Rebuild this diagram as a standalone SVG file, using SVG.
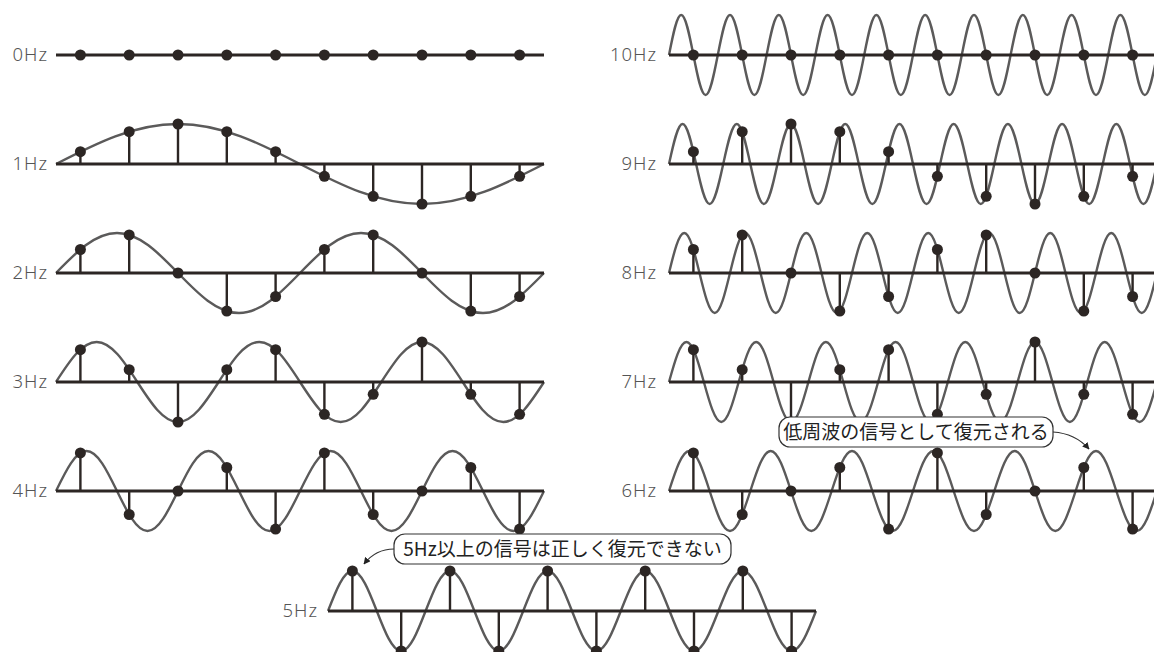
<svg xmlns="http://www.w3.org/2000/svg" width="1154" height="652" viewBox="0 0 1154 652">
<style>
.bg{fill:#fff}
.sine{fill:none;stroke:#5b5a5a;stroke-width:2.4;stroke-linejoin:round}
.axis{stroke:#2c2624;stroke-width:3;fill:none}
.stem{stroke:#2c2624;stroke-width:2.4;fill:none}
.dot{fill:#2c2624}
.lbl{font-family:"Noto Sans","Noto Sans CJK JP",sans-serif;font-size:18.5px;font-weight:300;letter-spacing:1px;fill:#555;text-anchor:end}
.box{fill:#fff;stroke:#333;stroke-width:1.2}
.ctext{font-family:"Noto Sans CJK JP",sans-serif;font-size:19px;fill:#222;text-anchor:middle}
.arrow{fill:none;stroke:#333;stroke-width:1.2}
</style>
<defs>
<marker id="ah" viewBox="0 0 10 10" refX="9" refY="5" markerWidth="7" markerHeight="7" markerUnits="userSpaceOnUse" orient="auto">
<path d="M0,0 L10,5 L0,10 z" fill="#222"/>
</marker>
</defs>
<rect class="bg" width="1154" height="652"/>

<g id="row-0hz">
<text class="lbl" x="48" y="61">0Hz</text>
<line class="axis" x1="56" y1="55" x2="544" y2="55"/>
<g class="dot"><circle cx="80.4" cy="55" r="5.5"/><circle cx="129.2" cy="55" r="5.5"/><circle cx="178" cy="55" r="5.5"/><circle cx="226.8" cy="55" r="5.5"/><circle cx="275.6" cy="55" r="5.5"/><circle cx="324.4" cy="55" r="5.5"/><circle cx="373.2" cy="55" r="5.5"/><circle cx="422" cy="55" r="5.5"/><circle cx="470.8" cy="55" r="5.5"/><circle cx="519.6" cy="55" r="5.5"/></g>
</g>

<g id="row-1hz">
<text class="lbl" x="48" y="170">1Hz</text>
<path class="sine" d="M56,164 c39.78,-20.49 77.85,-40 122,-40 s82.22,19.51 122,40 s77.85,40 122,40 s82.22,-19.51 122,-40"/>
<line class="axis" x1="56" y1="164" x2="544" y2="164"/>
<path class="stem" d="M80.4,164V151.64M129.2,164V131.64M178,164V124M226.8,164V131.64M275.6,164V151.64M324.4,164V176.36M373.2,164V196.36M422,164V204M470.8,164V196.36M519.6,164V176.36"/>
<g class="dot"><circle cx="80.4" cy="151.64" r="5.5"/><circle cx="129.2" cy="131.64" r="5.5"/><circle cx="178" cy="124" r="5.5"/><circle cx="226.8" cy="131.64" r="5.5"/><circle cx="275.6" cy="151.64" r="5.5"/><circle cx="324.4" cy="176.36" r="5.5"/><circle cx="373.2" cy="196.36" r="5.5"/><circle cx="422" cy="204" r="5.5"/><circle cx="470.8" cy="196.36" r="5.5"/><circle cx="519.6" cy="176.36" r="5.5"/></g>
</g>

<g id="row-2hz">
<text class="lbl" x="48" y="279">2Hz</text>
<path class="sine" d="M56,273 c19.89,-20.49 38.92,-40 61,-40 s41.11,19.51 61,40 s38.92,40 61,40 s41.11,-19.51 61,-40 s38.92,-40 61,-40 s41.11,19.51 61,40 s38.92,40 61,40 s41.11,-19.51 61,-40"/>
<line class="axis" x1="56" y1="273" x2="544" y2="273"/>
<path class="stem" d="M80.4,273V249.49M129.2,273V234.96M226.8,273V311.04M275.6,273V296.51M324.4,273V249.49M373.2,273V234.96M470.8,273V311.04M519.6,273V296.51"/>
<g class="dot"><circle cx="80.4" cy="249.49" r="5.5"/><circle cx="129.2" cy="234.96" r="5.5"/><circle cx="178" cy="273" r="5.5"/><circle cx="226.8" cy="311.04" r="5.5"/><circle cx="275.6" cy="296.51" r="5.5"/><circle cx="324.4" cy="249.49" r="5.5"/><circle cx="373.2" cy="234.96" r="5.5"/><circle cx="422" cy="273" r="5.5"/><circle cx="470.8" cy="311.04" r="5.5"/><circle cx="519.6" cy="296.51" r="5.5"/></g>
</g>

<g id="row-3hz">
<text class="lbl" x="48" y="388">3Hz</text>
<path class="sine" d="M56,382 c13.26,-20.49 25.95,-40 40.667,-40 s27.41,19.51 40.667,40 s25.95,40 40.667,40 s27.41,-19.51 40.667,-40 s25.95,-40 40.667,-40 s27.41,19.51 40.667,40 s25.95,40 40.667,40 s27.41,-19.51 40.667,-40 s25.95,-40 40.667,-40 s27.41,19.51 40.667,40 s25.95,40 40.667,40 s27.41,-19.51 40.667,-40"/>
<line class="axis" x1="56" y1="382" x2="544" y2="382"/>
<path class="stem" d="M80.4,382V349.64M129.2,382V369.64M178,382V422M226.8,382V369.64M275.6,382V349.64M324.4,382V414.36M373.2,382V394.36M422,382V342M470.8,382V394.36M519.6,382V414.36"/>
<g class="dot"><circle cx="80.4" cy="349.64" r="5.5"/><circle cx="129.2" cy="369.64" r="5.5"/><circle cx="178" cy="422" r="5.5"/><circle cx="226.8" cy="369.64" r="5.5"/><circle cx="275.6" cy="349.64" r="5.5"/><circle cx="324.4" cy="414.36" r="5.5"/><circle cx="373.2" cy="394.36" r="5.5"/><circle cx="422" cy="342" r="5.5"/><circle cx="470.8" cy="394.36" r="5.5"/><circle cx="519.6" cy="414.36" r="5.5"/></g>
</g>

<g id="row-4hz">
<text class="lbl" x="48" y="497">4Hz</text>
<path class="sine" d="M56,491 c9.95,-20.49 19.46,-40 30.5,-40 s20.55,19.51 30.5,40 s19.46,40 30.5,40 s20.55,-19.51 30.5,-40 s19.46,-40 30.5,-40 s20.55,19.51 30.5,40 s19.46,40 30.5,40 s20.55,-19.51 30.5,-40 s19.46,-40 30.5,-40 s20.55,19.51 30.5,40 s19.46,40 30.5,40 s20.55,-19.51 30.5,-40 s19.46,-40 30.5,-40 s20.55,19.51 30.5,40 s19.46,40 30.5,40 s20.55,-19.51 30.5,-40"/>
<line class="axis" x1="56" y1="491" x2="544" y2="491"/>
<path class="stem" d="M80.4,491V452.96M129.2,491V514.51M226.8,491V467.49M275.6,491V529.04M324.4,491V452.96M373.2,491V514.51M470.8,491V467.49M519.6,491V529.04"/>
<g class="dot"><circle cx="80.4" cy="452.96" r="5.5"/><circle cx="129.2" cy="514.51" r="5.5"/><circle cx="178" cy="491" r="5.5"/><circle cx="226.8" cy="467.49" r="5.5"/><circle cx="275.6" cy="529.04" r="5.5"/><circle cx="324.4" cy="452.96" r="5.5"/><circle cx="373.2" cy="514.51" r="5.5"/><circle cx="422" cy="491" r="5.5"/><circle cx="470.8" cy="467.49" r="5.5"/><circle cx="519.6" cy="529.04" r="5.5"/></g>
</g>

<g id="row-5hz">
<text class="lbl" x="318" y="617">5Hz</text>
<path class="sine" d="M328,611 c7.96,-20.49 15.57,-40 24.4,-40 s16.44,19.51 24.4,40 s15.57,40 24.4,40 s16.44,-19.51 24.4,-40 s15.57,-40 24.4,-40 s16.44,19.51 24.4,40 s15.57,40 24.4,40 s16.44,-19.51 24.4,-40 s15.57,-40 24.4,-40 s16.44,19.51 24.4,40 s15.57,40 24.4,40 s16.44,-19.51 24.4,-40 s15.57,-40 24.4,-40 s16.44,19.51 24.4,40 s15.57,40 24.4,40 s16.44,-19.51 24.4,-40 s15.57,-40 24.4,-40 s16.44,19.51 24.4,40 s15.57,40 24.4,40 s16.44,-19.51 24.4,-40"/>
<line class="axis" x1="328" y1="611" x2="816" y2="611"/>
<path class="stem" d="M352.4,611V571M401.2,611V651M450,611V571M498.8,611V651M547.6,611V571M596.4,611V651M645.2,611V571M694,611V651M742.8,611V571M791.6,611V651"/>
<g class="dot"><circle cx="352.4" cy="571" r="5.5"/><circle cx="401.2" cy="651" r="5.5"/><circle cx="450" cy="571" r="5.5"/><circle cx="498.8" cy="651" r="5.5"/><circle cx="547.6" cy="571" r="5.5"/><circle cx="596.4" cy="651" r="5.5"/><circle cx="645.2" cy="571" r="5.5"/><circle cx="694" cy="651" r="5.5"/><circle cx="742.8" cy="571" r="5.5"/><circle cx="791.6" cy="651" r="5.5"/></g>
</g>

<g id="row-10hz">
<text class="lbl" x="657" y="61">10Hz</text>
<path class="sine" d="M669,55 c3.98,-20.49 7.78,-40 12.2,-40 s8.22,19.51 12.2,40 s7.78,40 12.2,40 s8.22,-19.51 12.2,-40 s7.78,-40 12.2,-40 s8.22,19.51 12.2,40 s7.78,40 12.2,40 s8.22,-19.51 12.2,-40 s7.78,-40 12.2,-40 s8.22,19.51 12.2,40 s7.78,40 12.2,40 s8.22,-19.51 12.2,-40 s7.78,-40 12.2,-40 s8.22,19.51 12.2,40 s7.78,40 12.2,40 s8.22,-19.51 12.2,-40 s7.78,-40 12.2,-40 s8.22,19.51 12.2,40 s7.78,40 12.2,40 s8.22,-19.51 12.2,-40 s7.78,-40 12.2,-40 s8.22,19.51 12.2,40 s7.78,40 12.2,40 s8.22,-19.51 12.2,-40 s7.78,-40 12.2,-40 s8.22,19.51 12.2,40 s7.78,40 12.2,40 s8.22,-19.51 12.2,-40 s7.78,-40 12.2,-40 s8.22,19.51 12.2,40 s7.78,40 12.2,40 s8.22,-19.51 12.2,-40 s7.78,-40 12.2,-40 s8.22,19.51 12.2,40 s7.78,40 12.2,40 s8.22,-19.51 12.2,-40 s7.78,-40 12.2,-40 s8.22,19.51 12.2,40 s7.78,40 12.2,40 s8.22,-19.51 12.2,-40"/>
<line class="axis" x1="669" y1="55" x2="1157" y2="55"/>
<g class="dot"><circle cx="693.4" cy="55" r="5.5"/><circle cx="742.2" cy="55" r="5.5"/><circle cx="791" cy="55" r="5.5"/><circle cx="839.8" cy="55" r="5.5"/><circle cx="888.6" cy="55" r="5.5"/><circle cx="937.4" cy="55" r="5.5"/><circle cx="986.2" cy="55" r="5.5"/><circle cx="1035" cy="55" r="5.5"/><circle cx="1083.8" cy="55" r="5.5"/><circle cx="1132.6" cy="55" r="5.5"/></g>
</g>

<g id="row-9hz">
<text class="lbl" x="657" y="170">9Hz</text>
<path class="sine" d="M669,164 c4.42,-20.49 8.65,-40 13.5556,-40 s9.14,19.51 13.5556,40 s8.65,40 13.5556,40 s9.14,-19.51 13.5556,-40 s8.65,-40 13.5556,-40 s9.14,19.51 13.5556,40 s8.65,40 13.5556,40 s9.14,-19.51 13.5556,-40 s8.65,-40 13.5556,-40 s9.14,19.51 13.5556,40 s8.65,40 13.5556,40 s9.14,-19.51 13.5556,-40 s8.65,-40 13.5556,-40 s9.14,19.51 13.5556,40 s8.65,40 13.5556,40 s9.14,-19.51 13.5556,-40 s8.65,-40 13.5556,-40 s9.14,19.51 13.5556,40 s8.65,40 13.5556,40 s9.14,-19.51 13.5556,-40 s8.65,-40 13.5556,-40 s9.14,19.51 13.5556,40 s8.65,40 13.5556,40 s9.14,-19.51 13.5556,-40 s8.65,-40 13.5556,-40 s9.14,19.51 13.5556,40 s8.65,40 13.5556,40 s9.14,-19.51 13.5556,-40 s8.65,-40 13.5556,-40 s9.14,19.51 13.5556,40 s8.65,40 13.5556,40 s9.14,-19.51 13.5556,-40 s8.65,-40 13.5556,-40 s9.14,19.51 13.5556,40 s8.65,40 13.5556,40 s9.14,-19.51 13.5556,-40"/>
<line class="axis" x1="669" y1="164" x2="1157" y2="164"/>
<path class="stem" d="M693.4,164V151.64M742.2,164V131.64M791,164V124M839.8,164V131.64M888.6,164V151.64M937.4,164V176.36M986.2,164V196.36M1035,164V204M1083.8,164V196.36M1132.6,164V176.36"/>
<g class="dot"><circle cx="693.4" cy="151.64" r="5.5"/><circle cx="742.2" cy="131.64" r="5.5"/><circle cx="791" cy="124" r="5.5"/><circle cx="839.8" cy="131.64" r="5.5"/><circle cx="888.6" cy="151.64" r="5.5"/><circle cx="937.4" cy="176.36" r="5.5"/><circle cx="986.2" cy="196.36" r="5.5"/><circle cx="1035" cy="204" r="5.5"/><circle cx="1083.8" cy="196.36" r="5.5"/><circle cx="1132.6" cy="176.36" r="5.5"/></g>
</g>

<g id="row-8hz">
<text class="lbl" x="657" y="279">8Hz</text>
<path class="sine" d="M669,273 c4.97,-20.49 9.73,-40 15.25,-40 s10.28,19.51 15.25,40 s9.73,40 15.25,40 s10.28,-19.51 15.25,-40 s9.73,-40 15.25,-40 s10.28,19.51 15.25,40 s9.73,40 15.25,40 s10.28,-19.51 15.25,-40 s9.73,-40 15.25,-40 s10.28,19.51 15.25,40 s9.73,40 15.25,40 s10.28,-19.51 15.25,-40 s9.73,-40 15.25,-40 s10.28,19.51 15.25,40 s9.73,40 15.25,40 s10.28,-19.51 15.25,-40 s9.73,-40 15.25,-40 s10.28,19.51 15.25,40 s9.73,40 15.25,40 s10.28,-19.51 15.25,-40 s9.73,-40 15.25,-40 s10.28,19.51 15.25,40 s9.73,40 15.25,40 s10.28,-19.51 15.25,-40 s9.73,-40 15.25,-40 s10.28,19.51 15.25,40 s9.73,40 15.25,40 s10.28,-19.51 15.25,-40 s9.73,-40 15.25,-40 s10.28,19.51 15.25,40 s9.73,40 15.25,40 s10.28,-19.51 15.25,-40"/>
<line class="axis" x1="669" y1="273" x2="1157" y2="273"/>
<path class="stem" d="M693.4,273V249.49M742.2,273V234.96M839.8,273V311.04M888.6,273V296.51M937.4,273V249.49M986.2,273V234.96M1083.8,273V311.04M1132.6,273V296.51"/>
<g class="dot"><circle cx="693.4" cy="249.49" r="5.5"/><circle cx="742.2" cy="234.96" r="5.5"/><circle cx="791" cy="273" r="5.5"/><circle cx="839.8" cy="311.04" r="5.5"/><circle cx="888.6" cy="296.51" r="5.5"/><circle cx="937.4" cy="249.49" r="5.5"/><circle cx="986.2" cy="234.96" r="5.5"/><circle cx="1035" cy="273" r="5.5"/><circle cx="1083.8" cy="311.04" r="5.5"/><circle cx="1132.6" cy="296.51" r="5.5"/></g>
</g>

<g id="row-7hz">
<text class="lbl" x="657" y="388">7Hz</text>
<path class="sine" d="M669,382 c5.68,-20.49 11.12,-40 17.4286,-40 s11.75,19.51 17.4286,40 s11.12,40 17.4286,40 s11.75,-19.51 17.4286,-40 s11.12,-40 17.4286,-40 s11.75,19.51 17.4286,40 s11.12,40 17.4286,40 s11.75,-19.51 17.4286,-40 s11.12,-40 17.4286,-40 s11.75,19.51 17.4286,40 s11.12,40 17.4286,40 s11.75,-19.51 17.4286,-40 s11.12,-40 17.4286,-40 s11.75,19.51 17.4286,40 s11.12,40 17.4286,40 s11.75,-19.51 17.4286,-40 s11.12,-40 17.4286,-40 s11.75,19.51 17.4286,40 s11.12,40 17.4286,40 s11.75,-19.51 17.4286,-40 s11.12,-40 17.4286,-40 s11.75,19.51 17.4286,40 s11.12,40 17.4286,40 s11.75,-19.51 17.4286,-40 s11.12,-40 17.4286,-40 s11.75,19.51 17.4286,40 s11.12,40 17.4286,40 s11.75,-19.51 17.4286,-40"/>
<line class="axis" x1="669" y1="382" x2="1157" y2="382"/>
<path class="stem" d="M693.4,382V349.64M742.2,382V369.64M791,382V422M839.8,382V369.64M888.6,382V349.64M937.4,382V414.36M986.2,382V394.36M1035,382V342M1083.8,382V394.36M1132.6,382V414.36"/>
<g class="dot"><circle cx="693.4" cy="349.64" r="5.5"/><circle cx="742.2" cy="369.64" r="5.5"/><circle cx="791" cy="422" r="5.5"/><circle cx="839.8" cy="369.64" r="5.5"/><circle cx="888.6" cy="349.64" r="5.5"/><circle cx="937.4" cy="414.36" r="5.5"/><circle cx="986.2" cy="394.36" r="5.5"/><circle cx="1035" cy="342" r="5.5"/><circle cx="1083.8" cy="394.36" r="5.5"/><circle cx="1132.6" cy="414.36" r="5.5"/></g>
</g>

<g id="row-6hz">
<text class="lbl" x="657" y="497">6Hz</text>
<path class="sine" d="M669,491 c6.63,-20.49 12.97,-40 20.333,-40 s13.7,19.51 20.333,40 s12.97,40 20.333,40 s13.7,-19.51 20.333,-40 s12.97,-40 20.333,-40 s13.7,19.51 20.333,40 s12.97,40 20.333,40 s13.7,-19.51 20.333,-40 s12.97,-40 20.333,-40 s13.7,19.51 20.333,40 s12.97,40 20.333,40 s13.7,-19.51 20.333,-40 s12.97,-40 20.333,-40 s13.7,19.51 20.333,40 s12.97,40 20.333,40 s13.7,-19.51 20.333,-40 s12.97,-40 20.333,-40 s13.7,19.51 20.333,40 s12.97,40 20.333,40 s13.7,-19.51 20.333,-40 s12.97,-40 20.333,-40 s13.7,19.51 20.333,40 s12.97,40 20.333,40 s13.7,-19.51 20.333,-40"/>
<line class="axis" x1="669" y1="491" x2="1157" y2="491"/>
<path class="stem" d="M693.4,491V452.96M742.2,491V514.51M839.8,491V467.49M888.6,491V529.04M937.4,491V452.96M986.2,491V514.51M1083.8,491V467.49M1132.6,491V529.04"/>
<g class="dot"><circle cx="693.4" cy="452.96" r="5.5"/><circle cx="742.2" cy="514.51" r="5.5"/><circle cx="791" cy="491" r="5.5"/><circle cx="839.8" cy="467.49" r="5.5"/><circle cx="888.6" cy="529.04" r="5.5"/><circle cx="937.4" cy="452.96" r="5.5"/><circle cx="986.2" cy="514.51" r="5.5"/><circle cx="1035" cy="491" r="5.5"/><circle cx="1083.8" cy="467.49" r="5.5"/><circle cx="1132.6" cy="529.04" r="5.5"/></g>
</g>

<g id="connectors">
<path class="arrow" d="M394,549 C381,549 371,555 364,564" marker-end="url(#ah)"/>
<path class="arrow" d="M1053,432 C1068,433 1081,440 1089,449" marker-end="url(#ah)"/>
</g>

<g id="callout-5hz">
<rect class="box" x="394" y="534" width="337" height="30" rx="11"/>
<text class="ctext" x="562.5" y="556">5Hz以上の信号は正しく復元できない</text>
</g>

<g id="callout-alias">
<rect class="box" x="779" y="417" width="274" height="30" rx="11"/>
<text class="ctext" x="916" y="439">低周波の信号として復元される</text>
</g>
</svg>
